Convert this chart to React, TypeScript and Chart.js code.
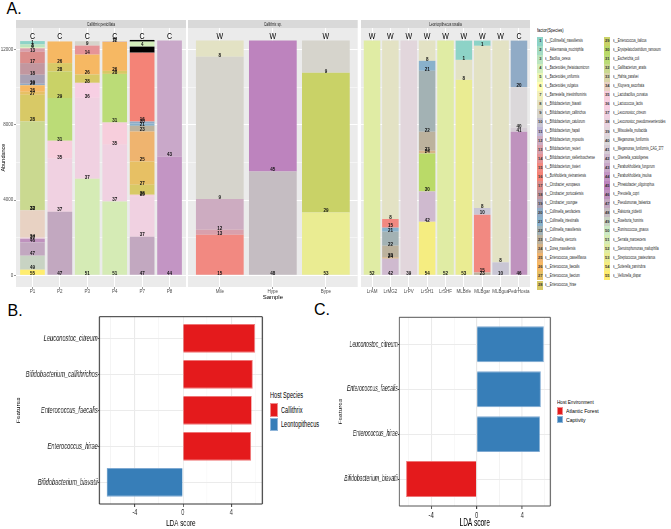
import React, { useEffect, useRef } from 'react';
import { Chart, registerables } from 'chart.js';

Chart.register(...registerables);

const FONT = '"Liberation Sans", Arial, Helvetica, sans-serif';

// ---------------- palette (RColorBrewer Set3 ramp, as in the figure) ----------------
const SET3 = ['#8DD3C7', '#FFFFB3', '#BEBADA', '#FB8072', '#80B1D3', '#FDB462', '#B3DE69', '#FCCDE5', '#D9D9D9', '#BC80BD', '#CCEBC5', '#FFED6F'];
function ramp(anchors: string[], n: number): string[] {
  const rgb = anchors.map((h) => [1, 3, 5].map((i) => parseInt(h.slice(i, i + 2), 16)));
  const out: string[] = [];
  for (let k = 0; k < n; k++) {
    const t = (k / (n - 1)) * (anchors.length - 1);
    const j = Math.min(Math.floor(t), anchors.length - 2);
    const f = t - j;
    const c = rgb[j].map((v, m) => Math.round(v + (rgb[j + 1][m] - v) * f));
    out.push('#' + c.map((v) => v.toString(16).padStart(2, '0')).join(''));
  }
  return out;
}

// ---------------- species legend ----------------
const SPECIES = [
  's__[Collinsella]_massiliensis', 's__Akkermansia_muciniphila', 's__Bacillus_cereus', 's__Bacteroides_thetaiotaomicron',
  's__Bacteroides_uniformis', 's__Bacteroides_vulgatus', 's__Barnesiella_intestinihominis', 's__Bifidobacterium_biavatii',
  's__Bifidobacterium_callitrichos', 's__Bifidobacterium_catulorum', 's__Bifidobacterium_hapali', 's__Bifidobacterium_myosotis',
  's__Bifidobacterium_reuteri', 's__Bifidobacterium_stellenboschense', 's__Bifidobacterium_tissieri', 's__Burkholderia_vietnamiensis',
  's__Citrobacter_europaeus', 's__Citrobacter_portucalensis', 's__Citrobacter_youngae', 's__Collinsella_aerofaciens',
  's__Collinsella_intestinalis', 's__Collinsella_massiliensis', 's__Collinsella_stercoris', 's__Dorea_massiliensis',
  's__Enterococcus_casseliflavus', 's__Enterococcus_faecalis', 's__Enterococcus_faecium', 's__Enterococcus_hirae',
  's__Enterococcus_italicus', 's__Erysipelatoclostridium_ramosum', 's__Escherichia_coli', 's__Gallibacterium_anatis',
  's__Hafnia_paralvei', 's__Kluyvera_ascorbata', 's__Lactobacillus_curvatus', 's__Lactococcus_lactis',
  's__Leuconostoc_citreum', 's__Leuconostoc_pseudomesenteroides', 's__Mitsuokella_multacida', 's__Megamonas_funiformis',
  's__Megamonas_funiformis_CAG_377', 's__Olsenella_scatoligenes', 's__Paraburkholderia_fungorum', 's__Paraburkholderia_insulsa',
  's__Phreatobacter_oligotrophus', 's__Prevotella_copri', 's__Pseudomonas_balearica', 's__Ralstonia_pickettii',
  's__Roseburia_hominis', 's__Ruminococcus_gnavus', 's__Serratia_marcescens', 's__Stenotrophomonas_maltophilia',
  's__Streptococcus_pasteurianus', 's__Sutterella_parvirubra', 's__Veillonella_dispar',
];
const SPECIES_COLORS = ramp(SET3, SPECIES.length);
const NA_COLOR = '#000000';
const colorOf = (sp: number) => (sp > 0 ? SPECIES_COLORS[sp - 1] : NA_COLOR);

// ---------------- panel A data: [species, abundance] from bottom to top ----------------
const FACET_TITLES = ['Callithrix penicillata', 'Callithrix sp.', 'Leontopithecus rosalia'];

const F1_SAMPLES = ['P1', 'P2', 'P3', 'P4', 'P7', 'P8'];
const F1_ORIGIN = ['C', 'C', 'C', 'C', 'C', 'C'];
const P1 = [[55, 300], [49, 745], [47, 705], [46, 195], [37, 55], [34, 1450], [33, 30], [32, 4700], [28, 1420], [27, 160], [26, 345], [20, 80], [19, 480], [18, 620], [17, 600], [13, 185], [6, 35], [3, 175], [1, 175]];
const P2 = [[47, 3385], [37, 2815], [35, 955], [31, 2270], [29, 1415], [28, 445], [26, 1150]];
const P3 = [[51, 5135], [37, 4300], [36, 800], [28, 440], [26, 1060], [14, 480], [9, 230]];
const P4 = [[51, 3930], [37, 3010], [35, 1185], [31, 2585], [28, 160], [26, 1540], [12, 30], [6, 30]];
const P7 = [[47, 2055], [37, 2150], [35, 80], [28, 530], [27, 1240], [25, 1595], [23, 300], [21, 120], [20, 105], [16, 3665], [0, 320], [4, 265], [0, 90]];
const P8 = [[44, 6320], [43, 6160]];

const F2_SAMPLES = ['Mile', 'Hype', 'Bype'];
const F2_ORIGIN = ['W', 'W', 'W'];
const S1 = [[15, 2160], [13, 265], [12, 1630], [9, 7560], [8, 865]];
const S2 = [[48, 5525], [45, 6960]];
const S3 = [[53, 3345], [29, 7420], [9, 1715]];

const F3_SAMPLES = ['LrAM', 'LrMG2', 'LrPV', 'LrSH1', 'LrSHF', 'MLBrfe', 'MLBgar', 'MLBgua', 'PedrHosta'];
const F3_ORIGIN = ['W', 'W', 'W', 'W', 'W', 'W', 'W', 'W', 'C'];
const L1 = [[52, 12480]];
const L2 = [[42, 885], [24, 80], [23, 610], [22, 745], [21, 215], [15, 460], [8, 9490]];
const L3 = [[39, 12480]];
const L4 = [[54, 2850], [42, 1610], [30, 2020], [24, 145], [23, 1010], [22, 3240], [21, 530], [8, 1080]];
const L5 = [[52, 12480]];
const L6 = [[53, 10395], [8, 1060], [1, 1025]];
const L7 = [[23, 145], [15, 3080], [10, 355], [8, 8620], [1, 280]];
const L8 = [[10, 690], [8, 11790]];
const L9 = [[46, 7635], [41, 210], [40, 2160], [20, 2475]];

const Y_MIN = -620;
const Y_MAX = 13150;
const Y_GRID = [0, 2000, 4000, 6000, 8000, 10000, 12000];
const Y_LABELED = [0, 4000, 8000, 12000];

// ---------------- panel B / C data ----------------
const B_FEATURES = ['Leuconostoc_citreum', 'Bifidobacterium_callithrichos', 'Enterococcus_faecalis', 'Enterococcus_hirae', 'Bifidobacterium_biavatii'];
const B_LDA = [5.97, 5.78, 5.7, 5.64, -6.33];
const B_GROUP = ['Callithrix', 'Callithrix', 'Callithrix', 'Callithrix', 'Leontopithecus'];
const B_GROUPS = ['Callithrix', 'Leontopithecus'];

const C_FEATURES = ['Leuconostoc_citreum', 'Enterococcus_faecalis', 'Enterococcus_hirae', 'Bifidobacterium_biavatii'];
const C_LDA = [5.89, 5.62, 5.56, -6.19];
const C_GROUP = ['Captivity', 'Captivity', 'Captivity', 'Atlantic Forest'];
const C_GROUPS = ['Atlantic Forest', 'Captivity'];

const LDA_TICKS = [-6, -4, -2, 0, 2, 4, 6];
const LDA_LABELED = [-4, 0, 4];

const RED = '#E41A1C';
const BLUE = '#377EB8';

// ---------------- helpers ----------------
function zeroPad(s: any) {
  s.paddingTop = 0; s.paddingBottom = 0; s.paddingLeft = 0; s.paddingRight = 0;
}

function facetConfig(samples: string[], origins: string[], bars: number[][][], title: string, showY: boolean, xTitle: string, padRight: number) {
  const n = samples.length;
  const maxLayers = Math.max(...bars.map((b) => b.length));
  const datasets: any[] = [];
  for (let k = 0; k < maxLayers; k++) {
    const data: any[] = [];
    bars.forEach((b, i) => { if (b[k]) data.push({ x: i, y: b[k][1], sp: b[k][0] }); });
    datasets.push({
      data,
      backgroundColor: (c: any) => colorOf(c.raw ? c.raw.sp : 0),
      borderWidth: 0,
      barPercentage: 0.9,
      categoryPercentage: 1,
    });
  }
  const deco = {
    id: 'facetDeco',
    beforeDraw(chart: any) {
      const { ctx, chartArea: a } = chart;
      ctx.save();
      ctx.fillStyle = '#ebebeb';
      ctx.fillRect(a.left, a.top, a.right - a.left, a.bottom - a.top);
      ctx.restore();
    },
    afterDraw(chart: any) {
      const { ctx, chartArea: a } = chart;
      const xs = chart.scales.x;
      ctx.save();
      // strip
      ctx.fillStyle = '#d9d9d9';
      ctx.fillRect(a.left, 20, a.right - a.left, 8);
      ctx.fillStyle = '#1a1a1a';
      ctx.textAlign = 'center';
      ctx.textBaseline = 'middle';
      ctx.save();
      ctx.translate((a.left + a.right) / 2, 24.3);
      ctx.scale(0.68, 1);
      ctx.font = `4.8px ${FONT}`;
      ctx.fillText(title, 0, 0);
      ctx.restore();
      // origin letters
      ctx.fillStyle = '#000';
      origins.forEach((o, i) => {
        ctx.save();
        ctx.translate(xs.getPixelForValue(i), 37);
        ctx.scale(0.78, 1);
        ctx.font = `9px ${FONT}`;
        ctx.fillText(o, 0, 0);
        ctx.restore();
      });
      // segment labels at each segment's base
      ctx.font = `bold 4.5px ${FONT}`;
      ctx.textBaseline = 'alphabetic';
      ctx.fillStyle = '#111';
      chart.data.datasets.forEach((ds: any, di: number) => {
        const meta = chart.getDatasetMeta(di);
        meta.data.forEach((el: any, j: number) => {
          const raw = ds.data[j];
          if (!raw || !raw.sp) return;
          ctx.fillText(String(raw.sp), el.x, el.base - 0.2);
        });
      });
      ctx.restore();
    },
  };
  return {
    type: 'bar',
    data: { datasets },
    options: {
      animation: false,
      responsive: false,
      devicePixelRatio: 1,
      events: [],
      layout: { padding: { left: 0, top: 28, right: padRight, bottom: 0 } },
      plugins: { legend: { display: false }, tooltip: { enabled: false } },
      scales: {
        x: {
          type: 'linear',
          offset: false,
          stacked: true,
          min: -0.6,
          max: n - 0.4,
          afterBuildTicks: (s: any) => { s.ticks = samples.map((_, i) => ({ value: i })); },
          afterFit: (s: any) => { s.height = 14; zeroPad(s); },
          ticks: {
            callback: (v: any) => samples[v] ?? '',
            autoSkip: false,
            maxRotation: 0,
            padding: 0.5,
            color: '#4d4d4d',
            font: { size: 4.5, family: FONT },
          },
          grid: { offset: false, color: '#ffffff', lineWidth: 1, tickColor: '#4d4d4d', tickLength: 2, tickWidth: 0.6 },
          border: { display: false },
          title: { display: !!xTitle, text: xTitle, color: '#000', font: { size: 6, family: FONT }, padding: 0 },
        },
        y: {
          type: 'linear',
          stacked: true,
          min: Y_MIN,
          max: Y_MAX,
          afterBuildTicks: (s: any) => { s.ticks = Y_GRID.map((v) => ({ value: v })); },
          afterFit: (s: any) => { s.width = showY ? 16 : 0; zeroPad(s); },
          ticks: {
            display: showY,
            callback: (v: any) => (Y_LABELED.includes(v) ? String(v) : ''),
            padding: 0.8,
            color: '#4d4d4d',
            font: { size: 4.5, family: FONT },
          },
          grid: {
            color: '#ffffff',
            lineWidth: (c: any) => (c.tick && Y_LABELED.includes(c.tick.value) ? 1 : 0.5),
            drawTicks: showY,
            tickColor: (c: any) => (c.tick && Y_LABELED.includes(c.tick.value) ? '#4d4d4d' : 'rgba(0,0,0,0)'),
            tickLength: 2,
            tickWidth: 0.6,
          },
          border: { display: false },
          title: { display: showY, text: 'Abundance', color: '#000', font: { size: 5.5, family: FONT }, padding: { top: 0, bottom: 0 } },
        },
      },
    },
    plugins: [deco],
  };
}

type LdaGeom = {
  sx: number; yAxisW: number; xAxisH: number; padTop: number; padRight: number;
  xMin: number; xMax: number; yTickFont: number; xTickFont: number; xTitleFont: number; yTitleFont: number; yTitlePad: number;
  borderColor: string;
};

function ldaConfig(features: string[], values: number[], group: string[], groups: string[], colors: string[], edges: string[], g: LdaGeom) {
  const n = features.length;
  const datasets = groups.map((name, gi) => ({
    label: name,
    data: features.map((_, i) => (group[i] === name ? { x: values[i], y: i } : null)).filter(Boolean),
    backgroundColor: colors[gi],
    borderColor: edges[gi],
    borderWidth: 1,
    barPercentage: 0.8,
    categoryPercentage: 1,
    grouped: false,
  }));
  const frame = {
    id: 'frame',
    afterDraw(chart: any) {
      const { ctx, chartArea: a } = chart;
      ctx.save();
      ctx.strokeStyle = g.borderColor;
      ctx.lineWidth = 1;
      ctx.beginPath();
      ctx.moveTo(a.left, a.top); ctx.lineTo(a.right, a.top);
      ctx.moveTo(a.left, a.bottom); ctx.lineTo(a.right, a.bottom);
      ctx.stroke();
      ctx.lineWidth = 1 / g.sx;
      ctx.beginPath();
      ctx.moveTo(a.left, a.top); ctx.lineTo(a.left, a.bottom);
      ctx.moveTo(a.right, a.top); ctx.lineTo(a.right, a.bottom);
      ctx.stroke();
      ctx.restore();
    },
  };
  return {
    type: 'bar',
    data: { datasets },
    options: {
      indexAxis: 'y',
      animation: false,
      responsive: false,
      devicePixelRatio: 1,
      events: [],
      layout: { padding: { left: 0, top: g.padTop, right: g.padRight, bottom: 0 } },
      plugins: { legend: { display: false }, tooltip: { enabled: false } },
      scales: {
        x: {
          type: 'linear',
          min: g.xMin,
          max: g.xMax,
          afterBuildTicks: (s: any) => { s.ticks = LDA_TICKS.map((v) => ({ value: v })); },
          afterFit: (s: any) => { s.height = g.xAxisH; zeroPad(s); },
          ticks: {
            callback: (v: any) => (LDA_LABELED.includes(v) ? String(v) : ''),
            autoSkip: false,
            maxRotation: 0,
            padding: 0.5,
            color: '#222',
            font: { size: g.xTickFont, family: FONT },
          },
          grid: {
            color: (c: any) => (c.tick && LDA_LABELED.includes(c.tick.value) ? '#e6e6e6' : '#f3f3f3'),
            lineWidth: (c: any) => (c.tick && LDA_LABELED.includes(c.tick.value) ? 1.4 : 1),
            tickColor: (c: any) => (c.tick && LDA_LABELED.includes(c.tick.value) ? '#333' : 'rgba(0,0,0,0)'),
            tickLength: 3,
            tickWidth: 1.4,
          },
          border: { display: false },
          title: { display: true, text: 'LDA score', color: '#000', font: { size: g.xTitleFont, family: FONT }, padding: 0 },
        },
        y: {
          type: 'linear',
          reverse: true,
          offset: false,
          min: -0.6,
          max: n - 0.4,
          afterBuildTicks: (s: any) => { s.ticks = features.map((_, i) => ({ value: i })); },
          afterFit: (s: any) => { s.width = g.yAxisW; zeroPad(s); },
          ticks: {
            callback: (v: any) => features[v] ?? '',
            autoSkip: false,
            padding: 0.5,
            color: '#1a1a1a',
            font: { size: g.yTickFont, family: FONT, style: 'italic' },
          },
          grid: { offset: false, color: '#ebebeb', lineWidth: 1, tickColor: '#333', tickLength: 2, tickWidth: 1 },
          border: { display: false },
          title: { display: true, text: 'Features', color: '#000', font: { size: g.yTitleFont, family: FONT }, padding: { top: g.yTitlePad, bottom: 0 } },
        },
      },
    },
    plugins: [frame],
  };
}

function ChartCanvas({ left, top, width, height, sx = 1, build }: any) {
  const ref = useRef<HTMLCanvasElement>(null);
  useEffect(() => {
    if (!ref.current) return;
    const chart = new Chart(ref.current, build());
    return () => chart.destroy();
  }, []);
  return (
    <canvas
      ref={ref}
      width={width}
      height={height}
      style={{ position: 'absolute', left, top, width, height, transform: `scaleX(${sx})`, transformOrigin: '0 0' }}
    />
  );
}

function Txt({ x, y, size, sx = 1, color = '#000', weight = 'normal', children }: any) {
  return (
    <div
      style={{
        position: 'absolute', left: x, top: y - size * 0.52, fontSize: size, lineHeight: `${size}px`,
        fontFamily: FONT, color, fontWeight: weight, whiteSpace: 'nowrap',
        transform: `scaleX(${sx})`, transformOrigin: '0 50%',
      }}
    >
      {children}
    </div>
  );
}

function Box({ x, y, w, h, color, border }: any) {
  return <div style={{ position: 'absolute', left: x, top: y, width: w, height: h, background: color, boxSizing: 'border-box', border: border ? `1px solid ${border}` : 'none' }} />;
}

const B_GEOM: LdaGeom = {
  sx: 0.66, yAxisW: 150.5, xAxisH: 25, padTop: 6.7, padRight: 2.6, xMin: -6.94, xMax: 6.58,
  yTickFont: 8.6, xTickFont: 8.5, xTitleFont: 9.5, yTitleFont: 6.5, yTitlePad: 24, borderColor: '#333',
};
const C_GEOM: LdaGeom = {
  sx: 0.62, yAxisW: 106.9, xAxisH: 23, padTop: 7.3, padRight: 2.5, xMin: -6.8, xMax: 6.47,
  yTickFont: 8.2, xTickFont: 9.5, xTitleFont: 10.5, yTitleFont: 6.5, yTitlePad: 8.2, borderColor: '#555',
};

export default function App() {
  const legendRows = 28;
  return (
    <div style={{ position: 'absolute', left: 0, top: 0, width: 671, height: 529, overflow: 'hidden', background: '#fff' }}>
      {/* Panel labels */}
      <Txt x={6.5} y={9.3} size={16}>A.</Txt>
      <Txt x={7.5} y={311} size={16}>B.</Txt>
      <Txt x={314} y={310.5} size={16}>C.</Txt>

      {/* Panel A facets */}
      <ChartCanvas left={0} top={0} width={187} height={301}
        build={() => facetConfig(F1_SAMPLES, F1_ORIGIN, [P1, P2, P3, P4, P7, P8], FACET_TITLES[0], true, '', 1)} />
      <ChartCanvas left={188} top={0} width={170} height={301}
        build={() => facetConfig(F2_SAMPLES, F2_ORIGIN, [S1, S2, S3], FACET_TITLES[1], false, 'Sample', 0.3)} />
      <ChartCanvas left={361} top={0} width={170} height={301}
        build={() => facetConfig(F3_SAMPLES, F3_ORIGIN, [L1, L2, L3, L4, L5, L6, L7, L8, L9], FACET_TITLES[2], false, '', 1)} />

      {/* Panel A legend */}
      <Txt x={537.3} y={30.5} size={5.5} sx={0.72}>factor(Species)</Txt>
      {SPECIES.map((name, i) => {
        const col = i < legendRows ? 0 : 1;
        const row = col ? i - legendRows : i;
        const sxp = col ? 604.3 : 537.3;
        const cy = 41.2 + row * 9.03;
        return (
          <React.Fragment key={name + i}>
            <Box x={sxp} y={cy - 4.5} w={6} h={9} color={SPECIES_COLORS[i]} />
            <div style={{ position: 'absolute', left: sxp, top: cy - 2, width: 6, textAlign: 'center', fontSize: 4, lineHeight: '4px', fontFamily: FONT, fontWeight: 'bold', color: '#333' }}>{i + 1}</div>
            <Txt x={col ? 612.7 : 545} y={cy} size={4.5} sx={0.66} color="#1a1a1a">{name}</Txt>
          </React.Fragment>
        );
      })}

      {/* Panel B */}
      <ChartCanvas left={0} top={310} width={400} height={219} sx={B_GEOM.sx}
        build={() => ldaConfig(B_FEATURES, B_LDA, B_GROUP, B_GROUPS, [RED, BLUE], ['#ef7576', '#7ea9d2'], B_GEOM)} />
      <Txt x={270} y={395} size={8.5} sx={0.66}>Host Species</Txt>
      <Box x={270} y={403.3} w={7.7} h={13.4} color={RED} border="#ef8a8b" />
      <Box x={270} y={418.3} w={7.7} h={12.4} color={BLUE} border="#8fb5d9" />
      <Txt x={280.5} y={410} size={8.5} sx={0.66}>Callithrix</Txt>
      <Txt x={280.5} y={424.5} size={8.5} sx={0.66}>Leontopithecus</Txt>

      {/* Panel C */}
      <ChartCanvas left={333} top={310} width={353} height={219} sx={C_GEOM.sx}
        build={() => ldaConfig(C_FEATURES, C_LDA, C_GROUP, C_GROUPS, [RED, BLUE], ['#ef7576', '#7ea9d2'], C_GEOM)} />
      <Txt x={556.7} y={402} size={6} sx={0.77}>Host Environment</Txt>
      <Box x={557.3} y={407.3} w={6} h={7.7} color={RED} border="#ef8a8b" />
      <Box x={557.3} y={416} w={6} h={7.3} color={BLUE} border="#8fb5d9" />
      <Txt x={565.7} y={411.2} size={6} sx={0.85}>Atlantic Forest</Txt>
      <Txt x={565.7} y={419.7} size={6} sx={0.85}>Captivity</Txt>
    </div>
  );
}
